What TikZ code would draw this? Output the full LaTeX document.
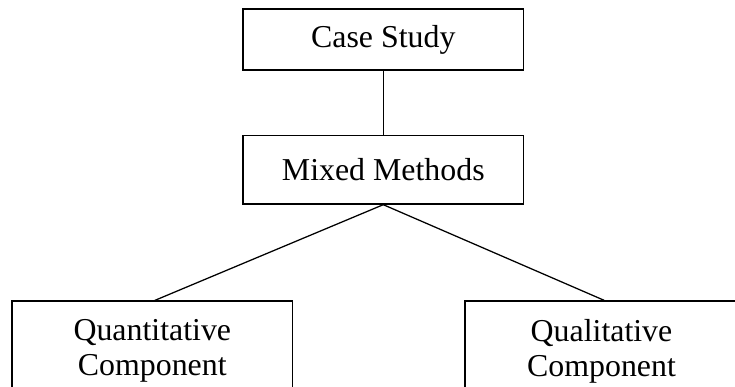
\documentclass[tikz,border=0pt]{standalone}
\usepackage{fontspec}
\setmainfont{Liberation Serif}
\begin{document}
\begin{tikzpicture}[x=0.75pt,y=-0.75pt,
  box/.style={draw=black, line width=1pt, inner sep=0pt, align=center,
    font=\fontsize{23.9}{26.3}\selectfont},
  link/.style={draw=black, line width=0.95pt}]
  \useasboundingbox (0,0) rectangle (735,386);
  \clip (0,0) rectangle (735,386);
  % top level
  \node[box, minimum width=210.5pt, minimum height=45.75pt] (case) at (383.3,39.5) {Case Study};
  \node[box, minimum width=210.5pt, minimum height=51.4pt] (mixed) at (383.3,169.75) {Mixed Methods};
  % the two components (their lower edges run past the page)
  \node[box, minimum width=210.5pt, minimum height=75pt] (quant) at (152.3,351) {Quantitative\\Component};
  \node[box, minimum width=204.75pt, minimum height=75pt] (qual) at (601.5,351) {Qualitative\\Component};
  % connectors
  \draw[link] (case.south) -- (mixed.north);
  \draw[link] (mixed.south) -- ([xshift=2pt]quant.north);
  \draw[link] (mixed.south) -- ([xshift=2pt]qual.north);
\end{tikzpicture}
\end{document}
